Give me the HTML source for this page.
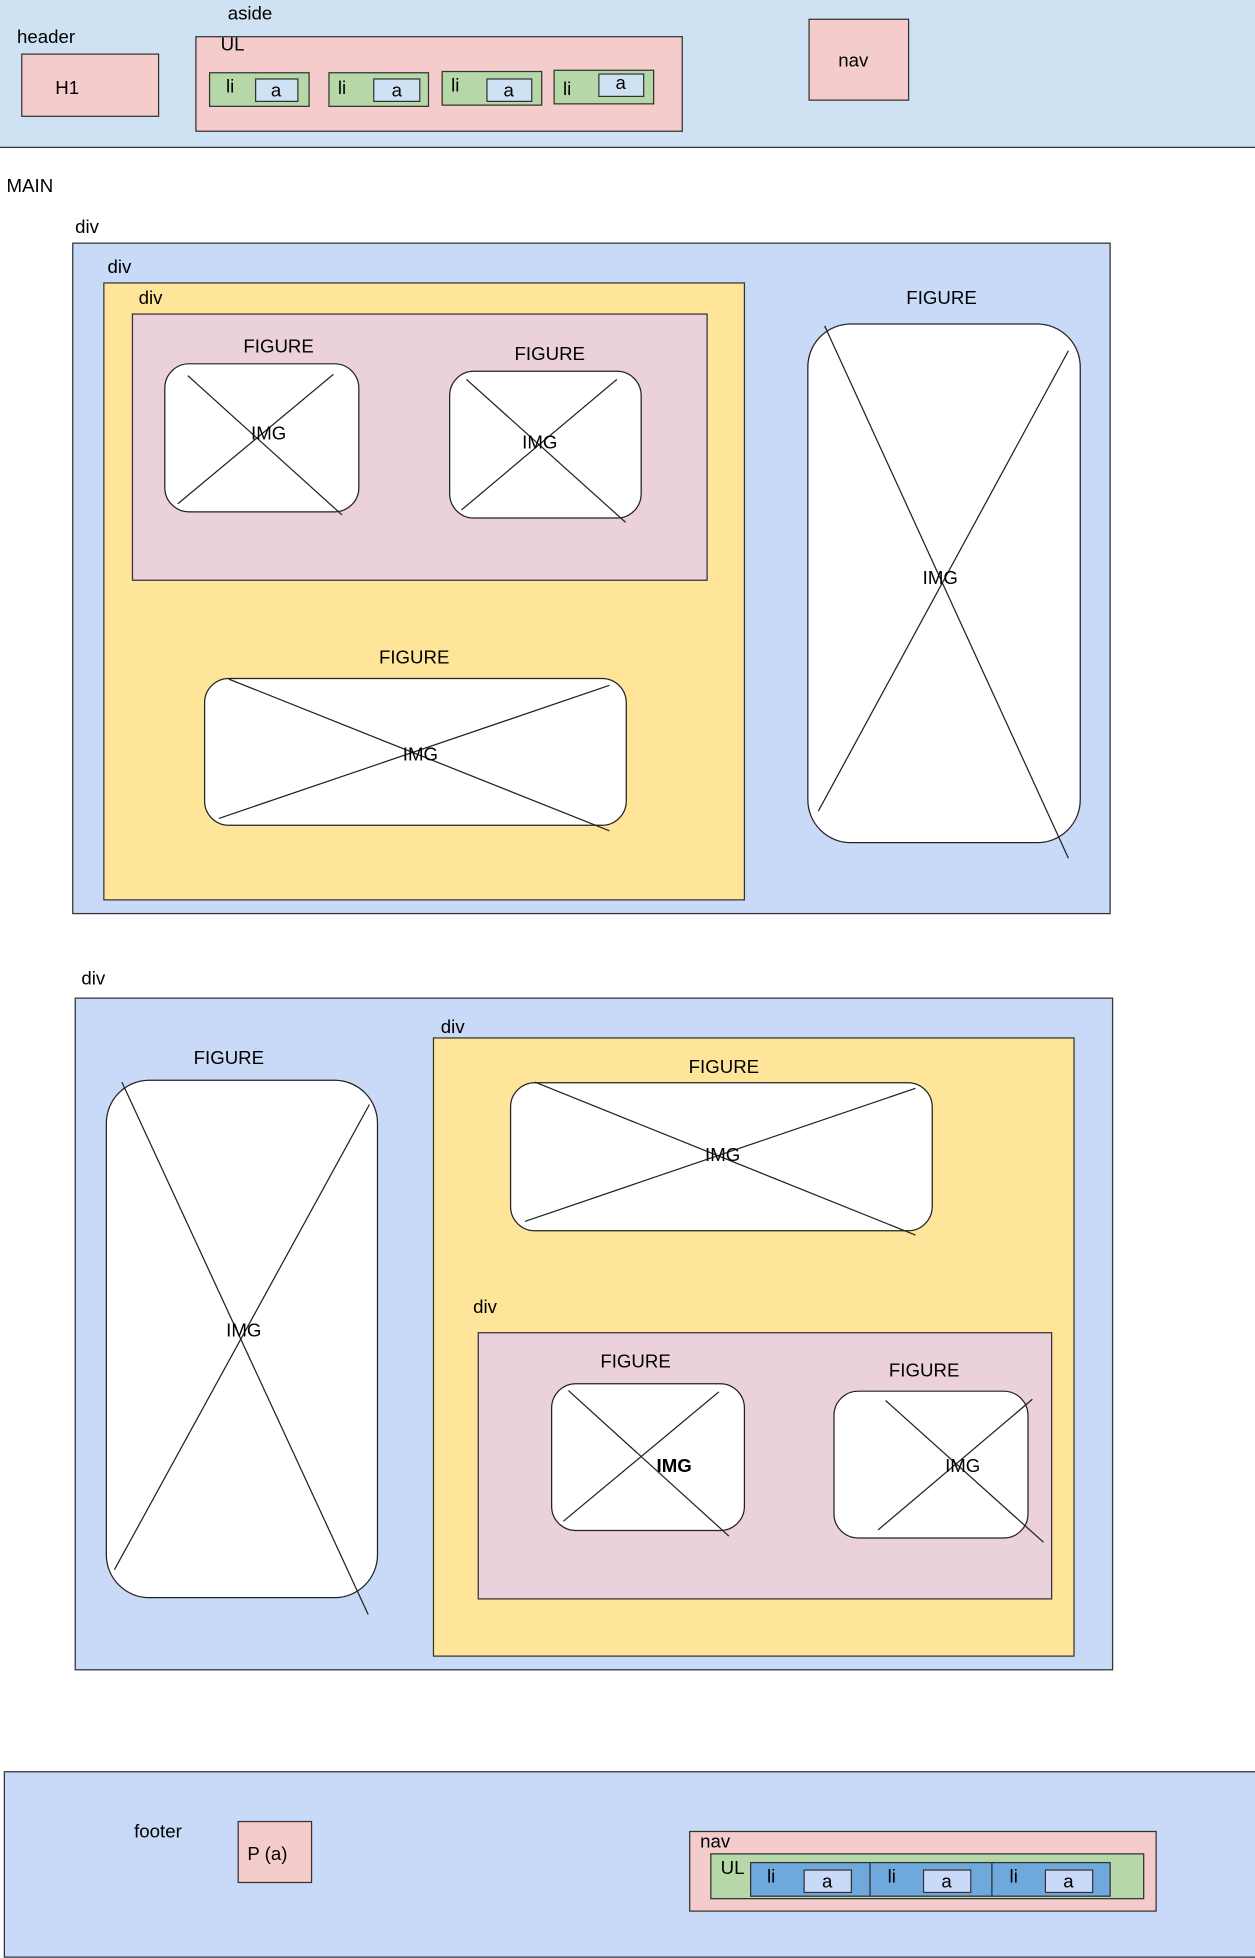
<!DOCTYPE html>
<html><head><meta charset="utf-8">
<style>
html,body{margin:0;padding:0;background:#fff;width:1255px;height:1951px;overflow:hidden}
#wrap{position:absolute;left:0;top:0;width:1009px;height:1568px;transform:scale(1.2438);transform-origin:0 0;font-family:"Liberation Sans",sans-serif;font-size:15px;color:#000}
.b{position:absolute;box-sizing:border-box;border:1px solid #333}
.t{position:absolute;transform:translate(-50%,-50%);white-space:nowrap}
.img{position:absolute;box-sizing:border-box;border:1px solid #222;background:#fff}
svg{position:absolute;left:0;top:0}
</style></head><body>
<div id="wrap">
<div class="b" style="left:-1px;top:-1px;width:1011px;height:120px;background:#cfe2f3"></div>
<div class="t" style="left:37px;top:30px">header</div>
<div class="b" style="left:17px;top:43px;width:111px;height:51px;background:#f4cccc"></div>
<div class="t" style="left:54px;top:71px">H1</div>
<div class="t" style="left:201px;top:11px">aside</div>
<div class="b" style="left:157px;top:29px;width:392px;height:77px;background:#f4cccc"></div>
<div class="t" style="left:187px;top:36px">UL</div>
<div class="b" style="left:168px;top:58px;width:81px;height:28px;background:#b6d7a8"></div>
<div class="t" style="left:185px;top:70px">li</div>
<div class="b" style="left:205px;top:63px;width:35px;height:19px;background:#cfe2f3"></div>
<div class="t" style="left:222px;top:73px">a</div>
<div class="b" style="left:264px;top:58px;width:81px;height:28px;background:#b6d7a8"></div>
<div class="t" style="left:275px;top:71px">li</div>
<div class="b" style="left:300px;top:63px;width:38px;height:19px;background:#cfe2f3"></div>
<div class="t" style="left:319px;top:73px">a</div>
<div class="b" style="left:355px;top:57px;width:81px;height:28px;background:#b6d7a8"></div>
<div class="t" style="left:366px;top:69px">li</div>
<div class="b" style="left:391px;top:63px;width:37px;height:19px;background:#cfe2f3"></div>
<div class="t" style="left:409px;top:73px">a</div>
<div class="b" style="left:445px;top:56px;width:81px;height:28px;background:#b6d7a8"></div>
<div class="t" style="left:456px;top:72px">li</div>
<div class="b" style="left:481px;top:59px;width:37px;height:19px;background:#cfe2f3"></div>
<div class="t" style="left:499px;top:67px">a</div>
<div class="b" style="left:650px;top:15px;width:81px;height:66px;background:#f4cccc"></div>
<div class="t" style="left:686px;top:49px">nav</div>

<div class="t" style="left:24px;top:150px">MAIN</div>

<div class="t" style="left:70px;top:183px">div</div>
<div class="b" style="left:58px;top:195px;width:835px;height:540px;background:#c9daf8"></div>
<div class="t" style="left:96px;top:215px">div</div>
<div class="b" style="left:83px;top:227px;width:516px;height:497px;background:#ffe599"></div>
<div class="t" style="left:121px;top:240px">div</div>
<div class="b" style="left:106px;top:252px;width:463px;height:215px;background:#ead1dc"></div>

<div class="t" style="left:224px;top:279px">FIGURE</div>
<div class="img" style="left:132px;top:292px;width:157px;height:120px;border-radius:20px"></div>
<div class="t" style="left:442px;top:285px">FIGURE</div>
<div class="img" style="left:361px;top:298px;width:155px;height:119px;border-radius:20px"></div>
<div class="t" style="left:333px;top:529px">FIGURE</div>
<div class="img" style="left:164px;top:545px;width:340px;height:119px;border-radius:20px"></div>
<div class="t" style="left:757px;top:240px">FIGURE</div>
<div class="img" style="left:649px;top:260px;width:220px;height:418px;border-radius:35px"></div>

<div class="t" style="left:75px;top:787px">div</div>
<div class="b" style="left:60px;top:802px;width:835px;height:541px;background:#c9daf8"></div>
<div class="t" style="left:184px;top:851px">FIGURE</div>
<div class="img" style="left:85px;top:868px;width:219px;height:417px;border-radius:35px"></div>
<div class="t" style="left:364px;top:826px">div</div>
<div class="b" style="left:348px;top:834px;width:516px;height:498px;background:#ffe599"></div>
<div class="t" style="left:582px;top:858px">FIGURE</div>
<div class="img" style="left:410px;top:870px;width:340px;height:120px;border-radius:20px"></div>
<div class="t" style="left:390px;top:1051px">div</div>
<div class="b" style="left:384px;top:1071px;width:462px;height:215px;background:#ead1dc"></div>
<div class="t" style="left:511px;top:1095px">FIGURE</div>
<div class="img" style="left:443px;top:1112px;width:156px;height:119px;border-radius:20px"></div>
<div class="t" style="left:743px;top:1102px">FIGURE</div>
<div class="img" style="left:670px;top:1118px;width:157px;height:119px;border-radius:20px"></div>

<svg width="1009" height="1568">
<g stroke="#222" stroke-width="1">
<line x1="151" y1="302" x2="275" y2="414"/><line x1="143" y1="405" x2="268" y2="301"/>
<line x1="375" y1="305" x2="503" y2="420"/><line x1="371" y1="410" x2="496" y2="305"/>
<line x1="184" y1="546" x2="490" y2="668"/><line x1="176" y1="658" x2="490" y2="551"/>
<line x1="663" y1="262" x2="859" y2="690"/><line x1="658" y1="652" x2="859" y2="282"/>
<line x1="98" y1="870" x2="296" y2="1298"/><line x1="92" y1="1262" x2="297" y2="888"/>
<line x1="430" y1="870" x2="736" y2="993"/><line x1="422" y1="982" x2="736" y2="875"/>
<line x1="457" y1="1118" x2="586" y2="1235"/><line x1="453" y1="1223" x2="578" y2="1119"/>
<line x1="712" y1="1126" x2="839" y2="1240"/><line x1="706" y1="1230" x2="830" y2="1125"/>
</g></svg>
<div class="t" style="left:216px;top:349px">IMG</div>
<div class="t" style="left:434px;top:356px">IMG</div>
<div class="t" style="left:338px;top:607px">IMG</div>
<div class="t" style="left:756px;top:465px">IMG</div>
<div class="t" style="left:196px;top:1070px">IMG</div>
<div class="t" style="left:581px;top:929px">IMG</div>
<div class="t" style="left:542px;top:1179px;font-weight:bold">IMG</div>
<div class="t" style="left:774px;top:1179px">IMG</div>

<div class="b" style="left:3px;top:1424px;width:1010px;height:150px;background:#c9daf8"></div>
<div class="t" style="left:127px;top:1473px">footer</div>
<div class="b" style="left:191px;top:1464px;width:60px;height:50px;background:#f4cccc"></div>
<div class="t" style="left:215px;top:1491px">P (a)</div>
<div class="b" style="left:554px;top:1472px;width:376px;height:65px;background:#f4cccc"></div>
<div class="t" style="left:575px;top:1481px">nav</div>
<div class="b" style="left:571px;top:1490px;width:349px;height:37px;background:#b6d7a8"></div>
<div class="t" style="left:589px;top:1502px">UL</div>
<div class="b" style="left:603px;top:1497px;width:97px;height:28px;background:#6fa8dc"></div>
<div class="b" style="left:699px;top:1497px;width:99px;height:28px;background:#6fa8dc"></div>
<div class="b" style="left:797px;top:1497px;width:96px;height:28px;background:#6fa8dc"></div>
<div class="t" style="left:620px;top:1509px">li</div>
<div class="t" style="left:717px;top:1509px">li</div>
<div class="t" style="left:815px;top:1509px">li</div>
<div class="b" style="left:646px;top:1503px;width:39px;height:19px;background:#c9daf8"></div>
<div class="b" style="left:742px;top:1503px;width:39px;height:19px;background:#c9daf8"></div>
<div class="b" style="left:840px;top:1503px;width:39px;height:19px;background:#c9daf8"></div>
<div class="t" style="left:665px;top:1513px">a</div>
<div class="t" style="left:761px;top:1513px">a</div>
<div class="t" style="left:859px;top:1513px">a</div>
</div>
</body></html>
